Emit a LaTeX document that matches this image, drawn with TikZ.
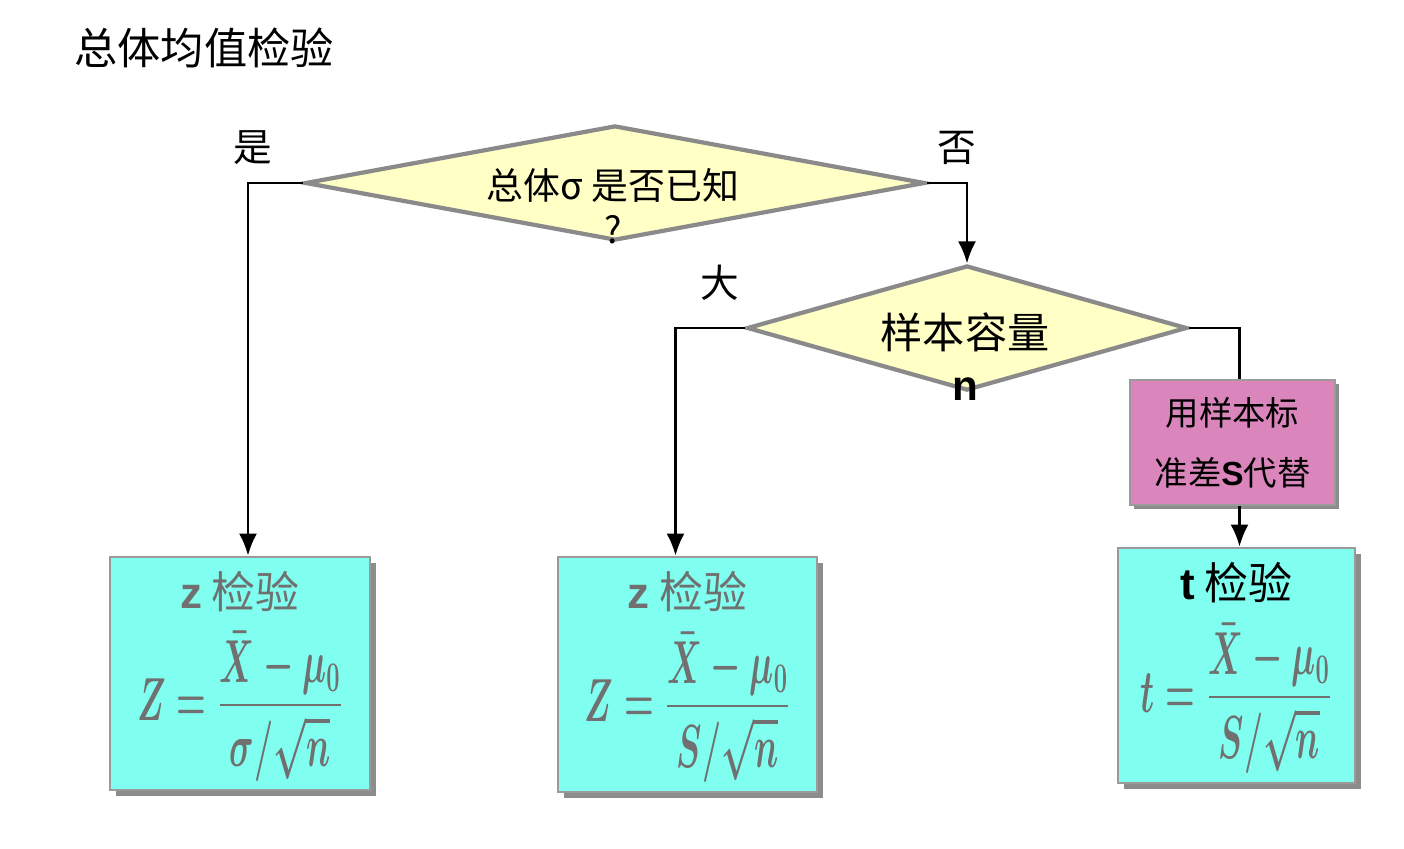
\documentclass[tikz,border=0pt]{standalone}
\usepackage{fontspec}
\usepackage{amsmath}
\usepackage{graphicx}
\setmainfont{Noto Sans CJK SC}
\setsansfont{Liberation Sans}
\usetikzlibrary{arrows.meta, positioning, shapes.geometric, shadows, calc}
\definecolor{diayellow}{HTML}{FFFFC6}
\definecolor{diagray}{HTML}{8A8A8A}
\definecolor{testcyan}{HTML}{80FFF0}
\definecolor{subpink}{HTML}{DA86BC}
\definecolor{boxgray}{HTML}{9A9A9A}
\definecolor{formgray}{HTML}{707070}
\definecolor{shadowgray}{HTML}{8C8C8C}
\newcommand{\meantest}[2]{\scalebox{0.56}[1]{\fontsize{17}{20}\selectfont\boldmath$#1=\dfrac{\raisebox{-2pt}{$\bar{X}-\mu_0$}}{#2/\sqrt{n}}$}}

\begin{document}
\begin{tikzpicture}[
    decision/.style={diamond, draw=diagray, line width=1.2pt, fill=diayellow, inner sep=0pt},
    testbox/.style={draw=boxgray, line width=0.8pt, fill=testcyan,
                    drop shadow={shadow xshift=0.06cm, shadow yshift=-0.06cm, fill=shadowgray, opacity=1}},
    testname/.style={text=formgray, inner sep=1pt, font=\fontsize{12.5}{14}\selectfont},
    formula/.style={text=formgray, inner sep=0pt},
    arr/.style={-{Latex[length=2.2mm, width=1.8mm]}, line width=0.7pt},
    lab/.style={font=\fontsize{11}{13}\selectfont},
]
    \useasboundingbox (0,0) rectangle (14.04,-8.48);

    % Title
    \node[anchor=west, font=\fontsize{12.3}{14}\selectfont] (title) at (0.62,-0.48) {总体均值检验};

    % Decisions
    \node[decision, minimum width=6.2cm, minimum height=1.15cm] (q1) at (6.15,-1.83) {};
    \node[font=\fontsize{10.5}{12.5}\selectfont, align=center] (q1text) at (6.13,-2.065) {总体σ 是否已知\\?};
    \node[decision, minimum width=4.4cm, minimum height=1.25cm] (q2) at (9.67,-3.28) {};
    \node[font=\fontsize{12}{15}\selectfont, align=center] (q2text) at (9.65,-3.565) {样本容量\\{\sffamily\bfseries n}};

    \node[lab] (yes) at (2.53,-1.48) {是};
    \node[lab] (no) at (9.57,-1.48) {否};
    \node[lab] (big) at (7.20,-2.83) {大};

    % Substitute s
    \node[draw=boxgray, line width=0.8pt, fill=subpink, minimum width=2.05cm, minimum height=1.25cm,
          align=center, font=\fontsize{9.5}{17}\selectfont,
          drop shadow={shadow xshift=0.04cm, shadow yshift=-0.04cm, fill=shadowgray, opacity=1}]
          (sub) at (12.325,-4.425) {用样本标\\准差{\sffamily\bfseries S}代替};

    % Tests
    \node[testbox, minimum width=2.6cm, minimum height=2.33cm] (z1) at (2.40,-6.735) {};
    \node[testname, below=0.11cm of z1.north] (z1name) {{\sffamily\bfseries z} 检验};
    \node[formula] (z1form) at ([yshift=-0.33cm]z1.center) {\meantest{Z}{\sigma}};

    \node[testbox, minimum width=2.59cm, minimum height=2.35cm] (z2) at (6.875,-6.745) {};
    \node[testname, below=0.11cm of z2.north] (z2name) {{\sffamily\bfseries z} 检验};
    \node[formula] (z2form) at ([yshift=-0.33cm]z2.center) {\meantest{Z}{S}};

    \node[testbox, minimum width=2.37cm, minimum height=2.35cm] (t) at (12.365,-6.655) {};
    \node[testname, text=black, below=0.11cm of t.north] (tname) {{\sffamily\bfseries t} 检验};
    \node[formula] (tform) at ([yshift=-0.33cm]t.center) {\meantest{t}{S}};

    % Connectors
    \draw[arr] (q1.west) -| ([xshift=0.08cm]z1.north);
    \draw[arr] (q1.east) -| (q2.north);
    \draw[arr] (q2.west) -| ([xshift=-0.12cm]z2.north);
    \draw[line width=0.7pt] (q2.east) -| ([xshift=0.07cm]sub.north);
    \draw[arr] ([xshift=0.07cm]sub.south) -- ([xshift=0.07cm]sub.south |- t.north);
\end{tikzpicture}
\end{document}
